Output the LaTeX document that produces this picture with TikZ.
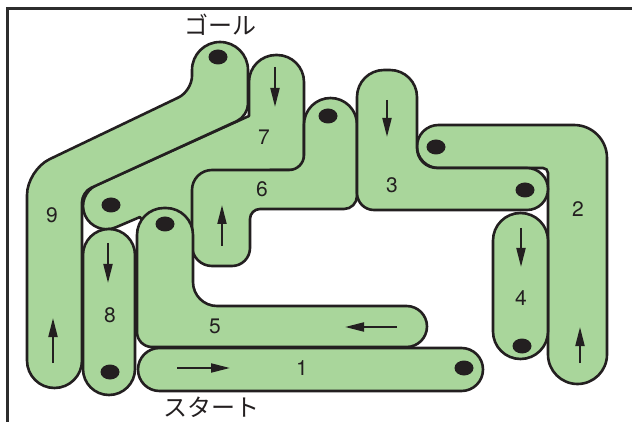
\documentclass[tikz,border=0pt]{standalone}
\usepackage{fontspec}
\setmainfont{TeX Gyre Heros}
\newfontfamily\jpfont{Noto Sans CJK JP}
\usepackage{tikz}
\usetikzlibrary{arrows.meta}
\definecolor{tubegreen}{RGB}{169,214,155}
\definecolor{inkblack}{RGB}{35,31,32}
\definecolor{framegray}{RGB}{45,45,45}
\begin{document}
\begin{tikzpicture}[x=1pt,y=-1pt,
piece/.style={draw=inkblack,fill=tubegreen,line width=2.6pt,line join=round},
holedot/.style={fill=inkblack},
dirarrow/.style={draw=inkblack,line width=2pt,-{Triangle[length=19pt,width=9pt]}},
numlabel/.style={font=\fontsize{21}{21}\selectfont,text=inkblack},
jplabel/.style={font=\jpfont\fontsize{24}{24}\selectfont,text=inkblack}]
\useasboundingbox (0,0) rectangle (632,422);
\draw[piece] (140,217) [rounded corners=23pt] -- (94.6,236.4) -- (75.6,194.6) [sharp corners] -- (249,116) [rounded corners=27pt] -- (249,55) -- (304,55) [sharp corners] -- (304,170) -- (270,170) -- (240,200) -- (200,235) -- (150,235) -- cycle;
\draw[piece] (27,300) [rounded corners=25pt] -- (27,170) [rounded corners=15pt] -- (192,91) [rounded corners=28pt] -- (192,42) -- (248,42) [rounded corners=12pt] -- (248,116) [rounded corners=10pt] -- (82,192) [rounded corners=27.5pt] -- (82,388) -- (27,388) [sharp corners] -- cycle;
\draw[piece,rounded corners=26pt] (83,229) rectangle (135,395);
\draw[piece] (192,220) [rounded corners=20pt] -- (192,170) [rounded corners=15pt] -- (304,170) [rounded corners=26.5pt] -- (304,98) -- (357,98) [rounded corners=13pt] -- (357,209) [rounded corners=10pt] -- (250,209) [rounded corners=18pt] -- (250,266) [rounded corners=20pt] -- (192,266) [sharp corners] -- cycle;
\draw[piece] (137,300) [rounded corners=27pt] -- (137,208) -- (193,208) [rounded corners=24pt] -- (193,306) [rounded corners=20.5pt] -- (427,306) -- (427,347) [rounded corners=15pt] -- (137,347) [sharp corners] -- cycle;
\draw[piece,rounded corners=21.5pt] (138,348) rectangle (483,391);
\draw[piece] (607,250) [rounded corners=29.5pt] -- (607,384) -- (548,384) [rounded corners=5pt] -- (548,168) [rounded corners=21.5pt] -- (417,168) -- (417,125) [rounded corners=33pt] -- (607,125) [sharp corners] -- cycle;
\draw[piece] (357,150) [rounded corners=27pt] -- (357,70) -- (417,70) [rounded corners=20pt] -- (417,168) [rounded corners=21pt] -- (548,168) -- (548,210) [rounded corners=17pt] -- (357,210) [sharp corners] -- cycle;
\draw[piece,rounded corners=27.5pt] (493,213) rectangle (548,359);
\fill[holedot] (218,57) ellipse [x radius=9.5pt,y radius=7.5pt];
\fill[holedot] (111,205) ellipse [x radius=9.5pt,y radius=7.5pt];
\fill[holedot] (328,116) ellipse [x radius=9.5pt,y radius=7.5pt];
\fill[holedot] (525,190) ellipse [x radius=9.5pt,y radius=7.5pt];
\fill[holedot] (436,147) ellipse [x radius=9.5pt,y radius=7.5pt];
\fill[holedot] (165,224) ellipse [x radius=9.5pt,y radius=7.5pt];
\fill[holedot] (110,372) ellipse [x radius=9.5pt,y radius=7.5pt];
\fill[holedot] (464,368) ellipse [x radius=9.5pt,y radius=7.5pt];
\fill[holedot] (522,346) ellipse [x radius=9.5pt,y radius=7.5pt];
\draw[dirarrow] (177,368) -- (230,368);
\draw[dirarrow] (580,363) -- (580,327);
\draw[dirarrow] (387,100) -- (387,137);
\draw[dirarrow] (521,228) -- (521,267);
\draw[dirarrow] (397,327) -- (345,327);
\draw[dirarrow] (222,246) -- (222,205);
\draw[dirarrow] (275,67) -- (275,107);
\draw[dirarrow] (108,243) -- (108,283);
\draw[dirarrow] (53,363) -- (53,318);
\node[numlabel] (lab1) at (302,368) {1};
\node[numlabel] (lab2) at (578,209) {2};
\node[numlabel] (lab3) at (392,185) {3};
\node[numlabel] (lab4) at (521,298) {4};
\node[numlabel] (lab5) at (215,326) {5};
\node[numlabel] (lab6) at (262,189) {6};
\node[numlabel] (lab7) at (264,137) {7};
\node[numlabel] (lab8) at (110,315) {8};
\node[numlabel] (lab9) at (52,215) {9};
\node[jplabel] (goal) at (220,25) {ゴール};
\node[jplabel] (start) at (211,407) {スタート};
\draw[framegray,line width=2.4pt] (7.5,422) -- (7.5,8.5) -- (632,8.5);
\end{tikzpicture}
\end{document}
